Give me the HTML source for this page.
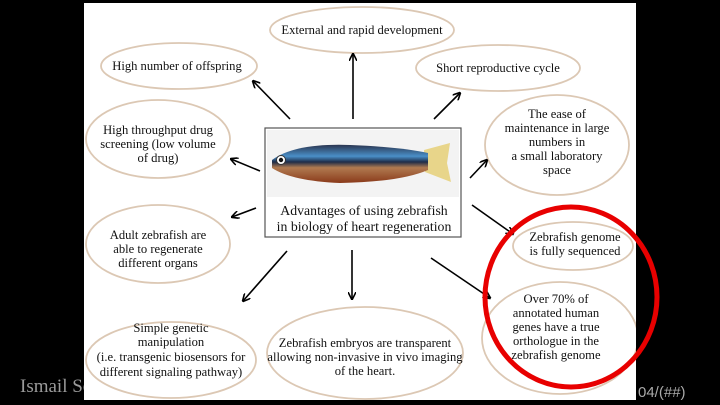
<!DOCTYPE html>
<html><head><meta charset="utf-8"><style>
html,body{margin:0;padding:0;background:#000;width:720px;height:405px;overflow:hidden}
svg{display:block}
text{font-family:"Liberation Serif",serif;fill:#111}
</style></head><body>
<svg width="720" height="405" viewBox="0 0 720 405" xmlns="http://www.w3.org/2000/svg">
<defs>
<marker id="ah" markerWidth="8" markerHeight="8" refX="7" refY="4" orient="auto" markerUnits="userSpaceOnUse">
<path d="M0,0 L8,4 L0,8" fill="none" stroke="#000" stroke-width="1.6"/></marker>
<linearGradient id="body" x1="0" y1="0" x2="0" y2="1">
<stop offset="0" stop-color="#2a3550"/><stop offset="0.3" stop-color="#4a8fc8"/><stop offset="0.45" stop-color="#1d2c48"/><stop offset="0.6" stop-color="#b07a50"/><stop offset="1" stop-color="#8a3a1a"/></linearGradient>
</defs>
<text x="20" y="392" font-size="19" style="fill:#9a9a9a">Ismail Sc</text>
<rect x="84" y="3" width="552" height="397" fill="#fff"/>
<g fill="#fff" stroke="#dcc8b4" stroke-width="1.8">
<ellipse cx="362" cy="30" rx="92" ry="23"/>
<ellipse cx="179" cy="66" rx="78" ry="23"/>
<ellipse cx="498" cy="68" rx="82" ry="23"/>
<ellipse cx="158" cy="139" rx="72" ry="39"/>
<ellipse cx="557" cy="145" rx="72" ry="50"/>
<ellipse cx="158" cy="244" rx="72" ry="39"/>
<ellipse cx="573" cy="246" rx="60" ry="24"/>
<ellipse cx="171" cy="360" rx="85" ry="38"/>
<ellipse cx="365" cy="353" rx="98" ry="46"/>
<ellipse cx="560" cy="338" rx="78" ry="56"/>
</g>
<rect x="636" y="0" width="84" height="405" fill="#000"/>
<g stroke="#000" stroke-width="1.6" marker-end="url(#ah)">
<line x1="353" y1="119" x2="353" y2="54"/>
<line x1="290" y1="119" x2="253" y2="81"/>
<line x1="434" y1="119" x2="460" y2="93"/>
<line x1="260" y1="171" x2="231" y2="159"/>
<line x1="256" y1="208" x2="232" y2="217"/>
<line x1="470" y1="178" x2="487" y2="160"/>
<line x1="472" y1="205" x2="513" y2="234"/>
<line x1="352" y1="250" x2="352" y2="299"/>
<line x1="287" y1="251" x2="243" y2="301"/>
<line x1="431" y1="258" x2="490" y2="298"/>
</g>
<rect x="265" y="128" width="196" height="109" fill="#fff" stroke="#555" stroke-width="1.2"/>
<rect x="267" y="130" width="192" height="67" fill="#f3f3f3"/>
<g>
<path d="M424,150 L450,143 L447,163 L451,182 L425,172 Z" fill="#e8d58a"/>
<path d="M272,160 Q295,143 350,145 Q400,147 428,153 L428,170 Q400,182 340,183 Q292,181 272,168 Z" fill="url(#body)"/>
<circle cx="281" cy="160" r="4.5" fill="#fff" stroke="#333"/>
<circle cx="281" cy="160" r="2.2" fill="#111"/>
</g>
<text x="364" y="215" font-size="13.8" text-anchor="middle">Advantages of using zebrafish</text>
<text x="364" y="231" font-size="13.8" text-anchor="middle">in biology of heart regeneration</text>
<g font-size="12.6" text-anchor="middle">
<text x="362" y="34">External and rapid development</text>
<text x="177" y="70">High number of offspring</text>
<text x="498" y="72">Short reproductive cycle</text>
<text x="158" y="134">High throughput drug</text>
<text x="158" y="148">screening (low volume</text>
<text x="158" y="162">of drug)</text>
<text x="557" y="118">The ease of</text>
<text x="557" y="132">maintenance in large</text>
<text x="557" y="146">numbers in</text>
<text x="557" y="160">a small laboratory</text>
<text x="557" y="174">space</text>
<text x="158" y="239">Adult zebrafish are</text>
<text x="158" y="253">able to regenerate</text>
<text x="158" y="267">different organs</text>
<text x="575" y="241">Zebrafish genome</text>
<text x="575" y="255">is fully sequenced</text>
<text x="171" y="332">Simple genetic</text>
<text x="171" y="346">manipulation</text>
<text x="171" y="361">(i.e. transgenic biosensors for</text>
<text x="171" y="376">different signaling pathway)</text>
<text x="365" y="347">Zebrafish embryos are transparent</text>
<text x="365" y="361">allowing non-invasive in vivo imaging</text>
<text x="365" y="375">of the heart.</text>
<text x="556" y="303">Over 70% of</text>
<text x="556" y="317">annotated human</text>
<text x="556" y="331">genes have a true</text>
<text x="556" y="345">orthologue in the</text>
<text x="556" y="359">zebrafish genome</text>
</g>
<ellipse cx="571" cy="297" rx="86" ry="90" fill="none" stroke="#e80000" stroke-width="5"/>
<rect x="0" y="400" width="720" height="5" fill="#000"/>
<text x="638" y="397" font-size="15" style="fill:#aaa;font-family:'Liberation Sans',sans-serif">04/(##)</text>
</svg>
</body></html>
